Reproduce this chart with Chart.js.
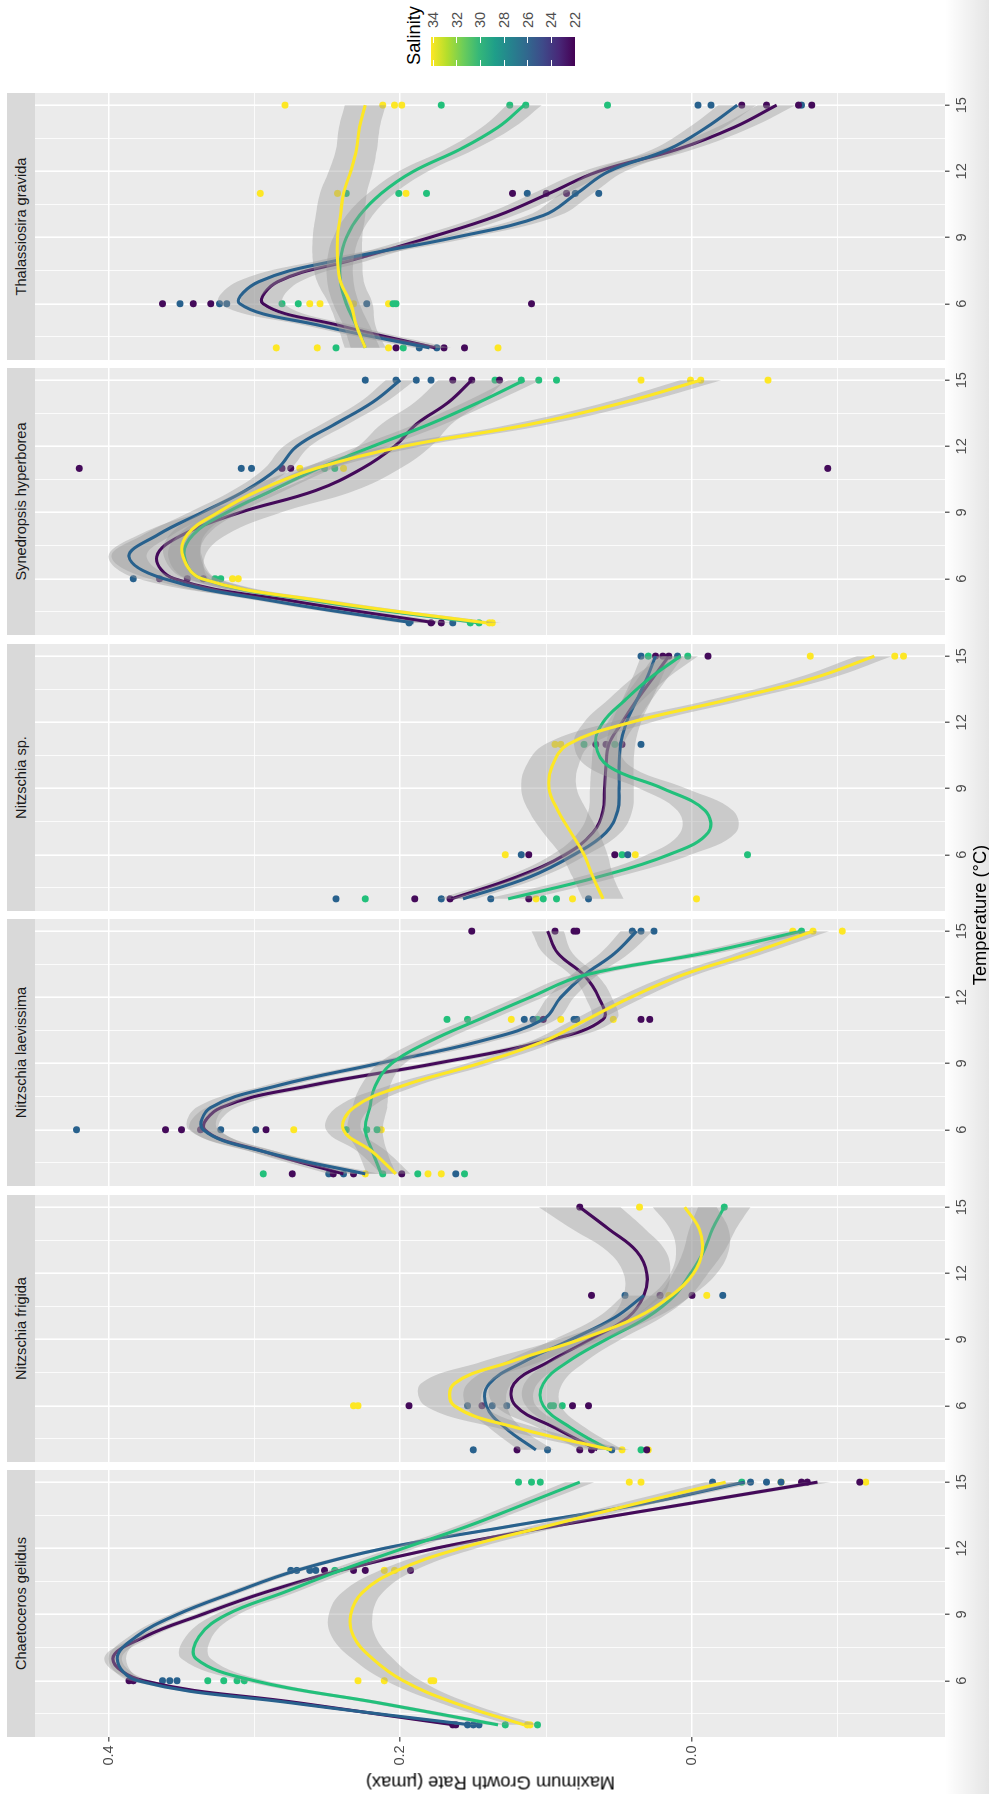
<!DOCTYPE html>
<html>
<head>
<meta charset="utf-8">
<script src="https://cdn.jsdelivr.net/npm/chart.js@4.4.1/dist/chart.umd.min.js"></script>
<style>
  html, body { margin: 0; padding: 0; background: #fff; width: 989px; height: 1794px; overflow: hidden; }
  #shade { position: absolute; left: 945px; top: 0; width: 44px; height: 1794px;
           background: linear-gradient(to right, rgba(0,0,0,0), rgba(0,0,0,0.1)); }
  /* the plot is laid out as a normal ggplot (1794 x 989) and then turned a quarter left */
  #plot { position: absolute; left: 0; top: 0; width: 1794px; height: 989px;
          transform-origin: 0 0; transform: translateY(1794px) rotate(-90deg);
          font-family: "Liberation Sans", Arial, sans-serif; }
  .strip { position: absolute; top: 7px; height: 28px; background: #d9d9d9; color: #1a1a1a;
           font-size: 14.6px; line-height: 28px; text-align: center; }
  .panel { position: absolute; top: 35px; height: 938px; }
  .title { position: absolute; font-size: 18.3px; line-height: 21px; color: #000; text-align: center; white-space: nowrap; }
  #salBar { position: absolute; left: 1728px; top: 431px; width: 29px; height: 144px; }
  .salTick { position: absolute; font-size: 14.6px; line-height: 16px; color: #4d4d4d; }
  .salMark { position: absolute; width: 6px; height: 1px; background: #fff; }
</style>
</head>
<body>
<div id="shade"></div>
<div id="plot"></div>
<script>
// ── data ─────────────────────────────────────────────────────────────────────
const SPECIES    = ['Chaetoceros gelidus', 'Nitzschia frigida', 'Nitzschia laevissima',
                    'Nitzschia sp.', 'Synedropsis hyperborea', 'Thalassiosira gravida'];
const SALINITY   = [22, 26, 30, 34];
const SAL_COLORS = ['#440a5a', '#28618d', '#22c07b', '#fde725'];
const SAL_TICKS  = [34, 32, 30, 28, 26, 24, 22];
const TEMP_FIT   = [4, 5, 6, 7, 8, 9, 10, 11, 12, 13, 14, 15];
const X_GRID  = [4.5, 6, 7.5, 9, 10.5, 12, 13.5, 15];
const X_MAJOR = [6, 9, 12, 15];
const Y_GRID  = [-0.1, 0, 0.1, 0.2, 0.3, 0.4];
const Y_MAJOR = [0, 0.2, 0.4];

// observations [temperature, µmax], one list per salinity group (22, 26, 30, 34)
const CG_PTS = [
  [[4,.164],[4,.162],[6,.386],[6,.383],[11,.252],[11,.232],[11,.224],[11,.193],[15,-.075],[15,-.079],[15,-.115]],
  [[4,.154],[4,.150],[4,.146],[6,.363],[6,.358],[6,.353],[11,.275],[11,.271],[11,.262],[11,.258],[15,-.014],[15,-.040],[15,-.051],[15,-.061]],
  [[4,.128],[4,.106],[6,.332],[6,.321],[6,.312],[6,.307],[11,.245],[15,.119],[15,.110],[15,.104],[15,-.034]],
  [[4,.113],[4,.111],[6,.229],[6,.211],[6,.179],[6,.177],[11,.211],[11,.204],[15,.043],[15,.035],[15,-.061],[15,-.119]]
];
const NF_PTS = [
  [[4,.120],[4,.077],[4,.069],[4,.031],[6,.194],[6,.144],[6,.082],[6,.071],[11,.069],[11,.022],[11,.000],[15,.077]],
  [[4,.150],[4,.099],[4,.055],[6,.154],[6,.137],[6,.127],[11,.046],[11,-.021]],
  [[4,.035],[6,.097],[6,.095],[6,.089],[15,-.022]],
  [[4,.048],[4,.030],[6,.232],[6,.229],[11,.016],[11,-.010],[15,.036]]
];
const NL_PTS = [
  [[4,.274],[4,.246],[4,.232],[4,.199],[6,.361],[6,.350],[6,.337],[6,.292],[11,.102],[11,.035],[11,.029],[15,.151],[15,.094],[15,.081],[15,.079]],
  [[4,.249],[4,.239],[4,.162],[6,.422],[6,.323],[6,.299],[11,.115],[11,.109],[11,.081],[11,.079],[15,.041],[15,.035],[15,.026]],
  [[4,.294],[4,.212],[4,.188],[4,.156],[6,.237],[6,.223],[6,.216],[11,.168],[11,.154],[11,.106],[15,-.075]],
  [[4,.224],[4,.181],[4,.172],[6,.273],[6,.213],[11,.124],[11,.090],[11,.054],[15,-.069],[15,-.083],[15,-.103]]
];
const NS_PTS = [
  [[4,.190],[4,.166],[4,.112],[6,.112],[6,.053],[11,.066],[11,.059],[11,.048],[15,.025],[15,.020],[15,.016],[15,-.011]],
  [[4,.244],[4,.172],[4,.138],[4,.071],[6,.117],[6,.044],[11,.035],[15,.035],[15,.010]],
  [[4,.224],[4,.102],[4,.093],[6,.048],[6,-.038],[11,.074],[11,.053],[15,.030],[15,.003]],
  [[4,.107],[4,.082],[4,-.003],[6,.128],[6,.039],[11,.094],[11,.090],[15,-.081],[15,-.139],[15,-.145]]
];
const SH_PTS = [
  [[4,.179],[4,.172],[6,.365],[6,.346],[6,.335],[11,.420],[11,.281],[11,.275],[11,-.093],[15,.164],[15,.151],[15,.132]],
  [[4,.194],[4,.164],[6,.383],[11,.309],[11,.302],[15,.224],[15,.203],[15,.189],[15,.179]],
  [[4,.152],[4,.146],[6,.327],[6,.323],[11,.252],[11,.245],[15,.135],[15,.117],[15,.105],[15,.093]],
  [[4,.139],[4,.137],[6,.315],[6,.311],[11,.269],[11,.239],[15,.035],[15,.001],[15,-.006],[15,-.052]]
];
const TG_PTS = [
  [[4,.203],[4,.170],[4,.156],[6,.363],[6,.342],[6,.330],[6,.110],[11,.123],[11,.100],[11,.086],[15,-.034],[15,-.051],[15,-.073],[15,-.082]],
  [[4,.187],[4,.175],[6,.351],[6,.324],[6,.319],[6,.223],[11,.113],[11,.080],[11,.064],[15,-.004],[15,-.013],[15,-.075]],
  [[4,.244],[4,.198],[6,.281],[6,.270],[6,.205],[6,.203],[11,.237],[11,.201],[11,.182],[15,.172],[15,.125],[15,.114],[15,.058]],
  [[4,.285],[4,.257],[4,.208],[4,.133],[6,.262],[6,.255],[6,.232],[6,.208],[11,.296],[11,.243],[11,.196],[15,.279],[15,.212],[15,.204],[15,.199]]
];

// smoothed fits read at TEMP_FIT, one row per salinity group
const CG_FIT = [
  [.163, .270, .376, .397, .375, .336, .293, .241, .176, .095, .005, -.086],
  [.152, .275, .380, .394, .381, .353, .314, .271, .211, .125, .035, -.036],
  [.133, .215, .300, .340, .338, .319, .280, .241, .198, .154, .115, .077],
  [.115, .163, .198, .219, .232, .234, .226, .202, .159, .100, .040, -.023]
];
const NF_FIT = [
  [.065, .094, .121, .122, .098, .070, .044, .033, .031, .038, .057, .077],
  [.107, .128, .141, .139, .115, .083, .053, .033, null, null, null, null],
  [.057, .083, .102, .102, .085, .059, .031, .012, .001, -.008, -.014, -.022],
  [.055, .120, .163, .163, .124, .077, .038, .014, -.001, -.007, -.005, .005]
];
const NL_FIT = [
  [.239, .293, .334, .323, .262, .176, .102, .061, .064, .074, .092, .099],
  [.224, .293, .335, .330, .284, .215, .146, .102, .090, .074, .053, .038],
  [.213, .219, .224, .221, .217, .206, .180, .146, .111, .074, -.008, -.075],
  [.203, .219, .239, .232, .198, .146, .102, .072, .042, .007, -.040, -.083]
];
const NS_FIT = [
  [.165, .120, .087, .068, .061, .060, .059, .057, .048, .038, .027, .016],
  [.157, .111, .081, .059, .051, .050, .050, .049, .045, .038, .031, .025],
  [.126, .064, .016, -.011, -.009, .020, .057, .066, .061, .046, .029, .008],
  [.061, .068, .074, .083, .092, .098, .096, .085, .042, -.023, -.083, -.125]
];
const SH_FIT = [
  [.176, .275, .355, .367, .349, .310, .258, .226, .204, .189, .167, .151],
  [.191, .288, .362, .386, .366, .336, .306, .284, .271, .245, .219, .200],
  [.146, .258, .336, .348, .342, .319, .288, .256, .219, .180, .146, .115],
  [.141, .254, .336, .349, .346, .325, .297, .258, .198, .111, .046, -.006]
];
const TG_FIT = [
  [.176, .241, .294, .284, .232, .180, .133, .098, .064, .010, -.029, -.058],
  [.180, .254, .310, .297, .241, .163, .102, .079, .057, .016, -.010, -.031],
  [.224, .230, .237, .241, .241, .237, .228, .213, .191, .159, .133, .115],
  [.224, .230, .234, .241, .243, .243, .241, .239, .234, .230, .228, .224]
];

// half width of the grey confidence band at TEMP_FIT
const CG_SE = [
  [.006, .005, .005, .006, .005, .005, .005, .005, .005, .006, .007, .009],
  [.006, .005, .005, .006, .005, .005, .005, .005, .005, .006, .007, .009],
  [.008, .007, .008, .010, .009, .008, .008, .008, .008, .008, .009, .010],
  [.010, .010, .012, .014, .015, .015, .014, .012, .011, .011, .012, .014]
];
const NF_SE = [
  [.012, .011, .014, .016, .014, .012, .012, .014, .016, .020, .025, .028],
  [.012, .011, .014, .015, .013, .012, .012, .014, null, null, null, null],
  [.010, .010, .012, .013, .012, .010, .010, .011, .012, .014, .016, .018],
  [.012, .014, .020, .023, .020, .015, .013, .014, .016, .018, .020, .022]
];
const NL_SE = [
  [.010, .009, .010, .010, .009, .009, .009, .009, .009, .009, .010, .011],
  [.010, .009, .010, .010, .009, .009, .009, .009, .009, .009, .010, .011],
  [.010, .010, .012, .012, .010, .009, .009, .009, .009, .009, .010, .011],
  [.010, .010, .012, .012, .010, .009, .009, .009, .009, .009, .010, .011]
];
const NS_SE = [
  [.009, .008, .009, .010, .010, .010, .010, .010, .010, .010, .010, .010],
  [.009, .008, .009, .010, .010, .010, .010, .010, .010, .010, .010, .010],
  [.015, .013, .015, .019, .019, .016, .015, .015, .013, .012, .012, .012],
  [.014, .014, .016, .019, .020, .019, .018, .016, .014, .012, .012, .012]
];
const SH_SE = [
  [.012, .015, .025, .033, .030, .028, .027, .026, .025, .024, .023, .023],
  [.010, .009, .010, .012, .010, .009, .009, .009, .009, .009, .009, .010],
  [.010, .009, .010, .011, .010, .009, .009, .010, .010, .010, .010, .011],
  [.010, .010, .011, .013, .012, .011, .011, .011, .012, .013, .013, .014]
];
const TG_SE = [
  [.011, .010, .014, .015, .012, .011, .011, .011, .011, .011, .012, .013],
  [.011, .010, .014, .015, .012, .011, .011, .011, .011, .011, .012, .013],
  [.010, .009, .009, .009, .009, .009, .009, .009, .010, .010, .011, .012],
  [.014, .013, .015, .016, .017, .017, .017, .016, .015, .014, .014, .014]
];

const PANELS = [
  [CG_PTS, CG_FIT, CG_SE], [NF_PTS, NF_FIT, NF_SE], [NL_PTS, NL_FIT, NL_SE],
  [NS_PTS, NS_FIT, NS_SE], [SH_PTS, SH_FIT, SH_SE], [TG_PTS, TG_FIT, TG_SE]
];

// ── layout (ggplot coordinates before the quarter turn) ─────────────────────
const PANEL_W = 267, PANEL_STEP = 275.4, PANEL_X0 = 57, Y_AXIS_W = 52;
const GREY_TXT = '#4d4d4d';
const isIn = (arr, v) => arr.some(a => Math.abs(a - v) < 1e-9);

const panelBg = {
  id: 'panelBg',
  beforeDraw(chart) {
    const { ctx, chartArea: a } = chart;
    ctx.save();
    ctx.fillStyle = '#ebebeb';
    ctx.fillRect(a.left, a.top, a.right - a.left, a.bottom - a.top);
    ctx.restore();
  }
};

function buildDatasets(pts, fits, ses) {
  const ds = [];
  pts.forEach((group, g) => ds.push({
    data: group.map(p => ({ x: p[0], y: p[1] })),
    showLine: false, pointRadius: 3.5, pointBorderWidth: 0,
    pointBackgroundColor: SAL_COLORS[g], order: 100
  }));
  fits.forEach((fit, g) => {
    const se = ses[g];
    const band = s => TEMP_FIT.map((t, k) => ({ x: t, y: fit[k] == null ? null : fit[k] + s * se[k] }));
    ds.push({ data: band(-1), borderColor: 'rgba(0,0,0,0)', pointRadius: 0, tension: 0.4,
              fill: false, order: 40 - 10 * g });
    ds.push({ data: band(1), borderColor: 'rgba(0,0,0,0)', pointRadius: 0, tension: 0.4,
              fill: '-1', backgroundColor: 'rgba(153,153,153,0.4)', order: 40 - 10 * g });
    ds.push({ data: TEMP_FIT.map((t, k) => ({ x: t, y: fit[k] })),
              borderColor: SAL_COLORS[g], borderWidth: 3.1, pointRadius: 0, tension: 0.4,
              fill: false, order: 35 - 10 * g });
  });
  return ds;
}

const plot = document.getElementById('plot');

SPECIES.forEach((name, i) => {
  const px = Math.round(PANEL_X0 + PANEL_STEP * i);
  const first = i === 0;

  const strip = document.createElement('div');
  strip.className = 'strip';
  strip.style.left = px + 'px';
  strip.style.width = PANEL_W + 'px';
  strip.textContent = name;
  plot.appendChild(strip);

  const yw = first ? Y_AXIS_W : 0;
  const box = document.createElement('div');
  box.className = 'panel';
  box.style.left = (px - yw) + 'px';
  box.style.width = (PANEL_W + yw) + 'px';
  const canvas = document.createElement('canvas');
  box.appendChild(canvas);
  plot.appendChild(box);

  const [pts, fits, ses] = PANELS[i];
  new Chart(canvas, {
    type: 'line',
    data: { datasets: buildDatasets(pts, fits, ses) },
    plugins: [panelBg],
    options: {
      responsive: true, maintainAspectRatio: false, animation: false, events: [],
      layout: { padding: 0, autoPadding: false },
      plugins: { legend: { display: false }, tooltip: { enabled: false } },
      scales: {
        x: {
          type: 'linear', min: 3.45, max: 15.55,
          afterBuildTicks: ax => { ax.ticks = X_GRID.map(v => ({ value: v })); },
          afterFit: ax => { ax.height = 28; ax.paddingLeft = 0; ax.paddingRight = 0; },
          border: { display: false },
          grid: {
            color: '#fff', tickLength: 4.6,
            lineWidth: c => isIn(X_MAJOR, c.tick.value) ? 1.6 : 0.8,
            tickColor: c => isIn(X_MAJOR, c.tick.value) ? '#333' : 'rgba(0,0,0,0)',
            tickWidth: 1.1
          },
          ticks: {
            autoSkip: false, maxRotation: 0, padding: 3.7, color: GREY_TXT,
            font: { size: 14.6, family: '"Liberation Sans", Arial, sans-serif' },
            callback: v => isIn(X_MAJOR, v) ? String(v) : ''
          }
        },
        y: {
          type: 'linear', min: -0.1734, max: 0.4504,
          afterBuildTicks: ax => { ax.ticks = Y_GRID.map(v => ({ value: v })); },
          afterFit: ax => { ax.width = yw; ax.paddingTop = 0; ax.paddingBottom = 0; },
          border: { display: false },
          grid: {
            color: '#fff', tickLength: 4.6, drawTicks: first,
            lineWidth: c => isIn(Y_MAJOR, c.tick.value) ? 1.6 : 0.8,
            tickColor: c => isIn(Y_MAJOR, c.tick.value) ? '#333' : 'rgba(0,0,0,0)',
            tickWidth: 1.1
          },
          ticks: {
            display: first, padding: 3.7, color: GREY_TXT,
            font: { size: 14.6, family: '"Liberation Sans", Arial, sans-serif' },
            callback: v => isIn(Y_MAJOR, v) ? v.toFixed(1) : ''
          }
        }
      }
    }
  });
});

// axis titles
const xTitle = document.createElement('div');
xTitle.className = 'title';
xTitle.style.left = PANEL_X0 + 'px';
xTitle.style.width = Math.round(PANEL_STEP * 5 + PANEL_W) + 'px';
xTitle.style.top = '969px';
xTitle.textContent = 'Temperature (°C)';
plot.appendChild(xTitle);

const yTitle = document.createElement('div');
yTitle.className = 'title';
yTitle.style.width = '910px';
yTitle.style.left = (10.5 - 455) + 'px';
yTitle.style.top = (490 - 10.5) + 'px';
yTitle.style.transform = 'rotate(-90deg)';
yTitle.textContent = 'Maximum Growth Rate (µmax)';
plot.appendChild(yTitle);

// salinity colour bar (34 at the top, 22 at the bottom)
const SAL_TOP = 34.17, SAL_BOTTOM = 22.0, BAR_TOP = 431, BAR_H = 144;
const salTitle = document.createElement('div');
salTitle.className = 'title';
salTitle.style.left = '1729px';
salTitle.style.top = '403px';
salTitle.style.textAlign = 'left';
salTitle.textContent = 'Salinity';
plot.appendChild(salTitle);

const bar = document.createElement('div');
bar.id = 'salBar';
bar.style.background = 'linear-gradient(to top, #440154, #482878, #3e4a89, #31688e, #26828e, #1f9e89, #35b779, #6dcd59, #b4de2c, #fde725)';
plot.appendChild(bar);

SAL_TICKS.forEach(v => {
  const y = BAR_TOP + (SAL_TOP - v) / (SAL_TOP - SAL_BOTTOM) * BAR_H;
  [1728, 1751].forEach(x => {
    const m = document.createElement('div');
    m.className = 'salMark';
    m.style.left = x + 'px';
    m.style.top = (y - 0.5) + 'px';
    plot.appendChild(m);
  });
  const t = document.createElement('div');
  t.className = 'salTick';
  t.style.left = '1766px';
  t.style.top = (y - 8) + 'px';
  t.textContent = String(v);
  plot.appendChild(t);
});
</script>
</body>
</html>
